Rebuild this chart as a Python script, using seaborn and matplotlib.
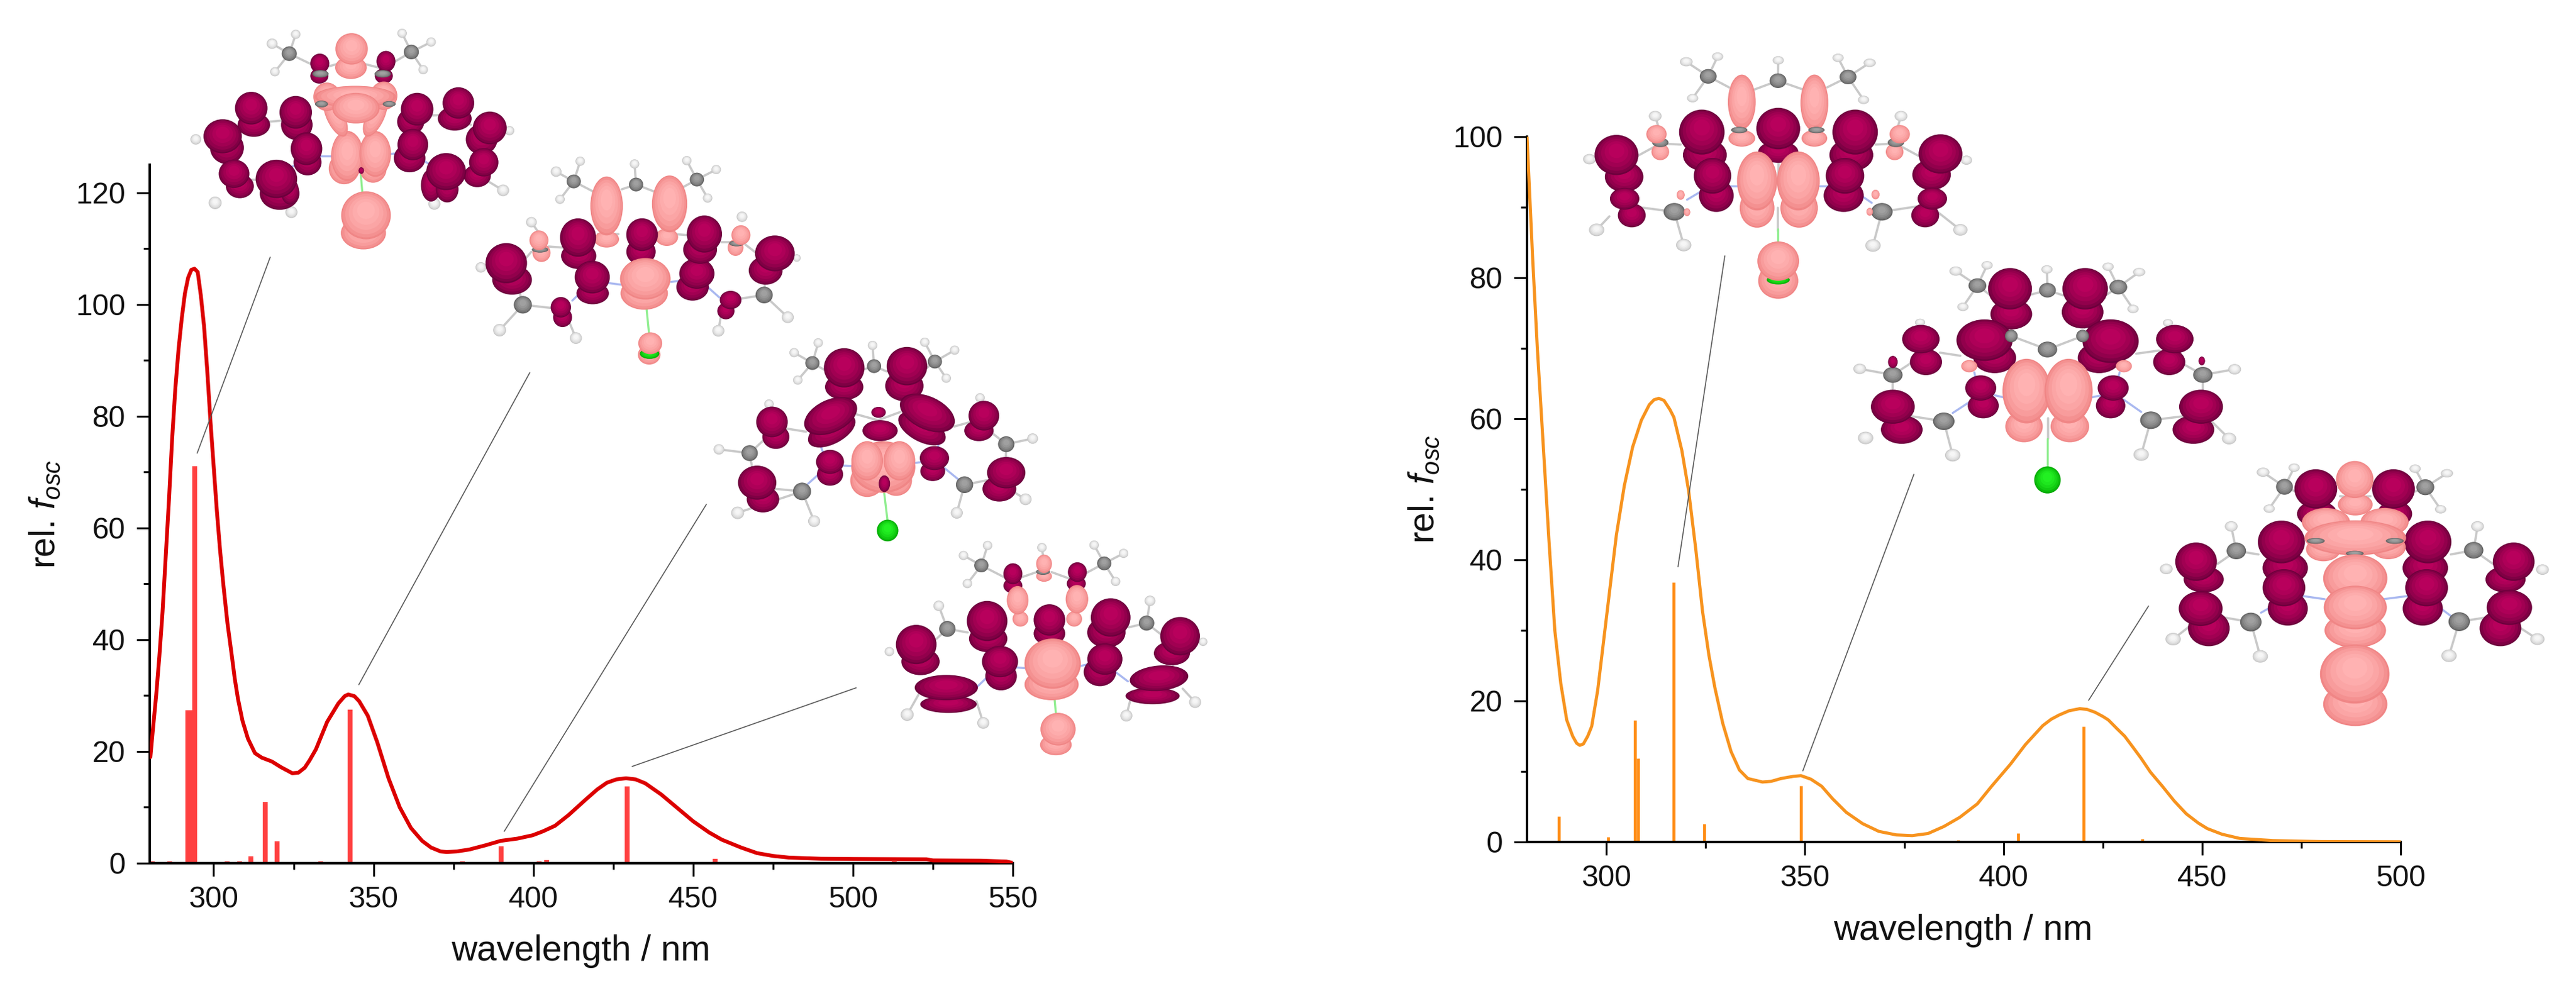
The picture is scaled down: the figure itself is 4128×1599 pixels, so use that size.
#%%
import numpy as np
import pandas as pd
import seaborn as sns
import matplotlib.pyplot as plt
from matplotlib.patches import Ellipse
from matplotlib.colors import to_rgb
from matplotlib.ticker import MultipleLocator

W, H = 4128, 1599

# left spectrum
left_nm = [280.2, 281, 282, 283, 284, 285, 286, 287, 288, 289, 290, 291, 292, 293, 294, 295, 296, 297, 298, 299, 300, 301,
           302, 303, 304.3, 305.7, 306.6, 307.6, 309, 310.7, 312.9, 315, 318.2, 321, 324.6, 326.5, 328.5, 330, 332, 335.5,
           339, 341, 342.1, 344, 345.5, 348.2, 351.2, 354.7, 358.2, 361.7, 365.2, 368, 371, 372.9, 376, 380, 385, 389.8,
           395, 399.8, 403, 406.8, 411, 416.6, 420, 423, 426, 429, 432, 435, 440, 445, 450, 455, 459,
           465, 470, 475, 480, 490, 500, 523, 525, 540, 548, 550]
left_osc = [19, 24, 30, 37, 45, 55, 65, 76, 85, 92, 97.5, 102, 104.8, 106.2, 106.4, 105.8, 101.5, 96, 88, 79, 71, 63,
            56, 50, 43, 37, 33, 29.4, 25.5, 22.3, 19.7, 18.9, 18.2, 17.2, 16.1, 16.2, 17.1, 18.4, 20.4, 25.3,
            28.6, 29.9, 30.2, 29.9, 29, 26.4, 21.6, 15.2, 10, 6.3, 4, 2.8, 2.1, 2, 2.1, 2.45, 3.2, 4,
            4.4, 5, 5.7, 6.7, 8.6, 11.5, 13.2, 14.4, 15, 15.2, 15, 14.3, 12.3, 9.9, 7.5, 5.5, 4.2,
            2.8, 1.8, 1.3, 1, 0.8, 0.75, 0.7, 0.5, 0.45, 0.3, 0.05]
left_stick_nm = [280.8, 286.2, 292, 292.8, 294, 304.2, 308.2, 311.7, 316.2, 319.8, 333.4, 342.6,
                 377.9, 389.9, 401.9, 404.1, 429.3, 456.9, 474, 513]
left_stick_osc = [0.3, 0.3, 27.4, 27.4, 71, 0.3, 0.3, 1.2, 11, 3.9, 0.3, 27.5,
                  0.3, 3.05, 0.3, 0.6, 13.7, 0.8, 0.2, 0.3]

# right spectrum
right_nm = [280, 281.4, 282.6, 283.9, 285.5, 287, 288.5, 290, 291.5, 292.5, 293.3, 294.2, 295.3, 296.3, 297.8, 299.4, 301, 302.5,
            304.5, 306.6, 308.8, 310.8, 312, 313.2, 314.5, 316, 317, 319, 320.7, 322.5, 324.2, 325.8, 327.3, 329.3, 331.4, 333.5,
            335.6, 339.3, 341.5, 344, 347, 349, 351.5, 354.2, 357, 360.4, 364.5, 368.6, 373, 377, 381, 385, 389, 393.4, 397, 401.7,
            405.5, 409.9, 412, 414, 416.5, 419.2, 421, 423, 425, 426.4, 428.5, 430.5, 432.5, 434.6, 437, 440, 443, 446, 449, 451.3,
            455, 459.5, 467.8, 480, 500]
right_osc = [100, 83, 70, 58, 43, 30, 22.5, 17.3, 15, 14, 13.7, 13.9, 15, 16.4, 21.5, 29, 36.5, 43.5,
             50.5, 56, 59.8, 62, 62.7, 62.9, 62.6, 61.3, 60.2, 55.5, 49.8, 41.5, 32.7, 26.5, 21.9, 16.8, 12.8, 10.2,
             9, 8.5, 8.6, 9, 9.3, 9.4, 8.9, 7.9, 6.1, 4.2, 2.6, 1.5, 1, 0.9, 1.2, 2.2, 3.5, 5.4, 7.9, 11,
             13.8, 16.5, 17.4, 18, 18.6, 18.9, 18.8, 18.4, 17.8, 17.3, 16.1, 15, 13.5, 11.9, 9.9, 7.9, 5.8, 4, 2.7, 1.9,
             1.1, 0.5, 0.2, 0.05, 0.02]
right_stick_nm = [288, 300.4, 304, 307.2, 308, 317, 324.6, 349, 388.6, 403.6, 420.1, 435]
right_stick_osc = [3.6, 0.7, 0.2, 17.3, 11.9, 36.8, 2.6, 8, 0.3, 1.2, 16.4, 0.4]

x_label = "wavelength / nm"
y_label = r"rel. $\mathit{f}_{\mathit{osc}}$"

# pointer lines, in image pixels
left_leaders = [(433, 412, 316, 726), (849, 597, 575, 1097), (1132, 808, 808, 1332), (1372, 1102, 1013, 1228)]
right_leaders = [(2764, 410, 2689, 908), (3067, 760, 2889, 1235), (3443, 971, 3347, 1122)]

# orbital pictures: kind, cx, cy, rx, ry, angle in crop pixels, back to front
mol1 = [
    "H", (395, 90, 25, 25), (505, 45, 22, 22), (408, 225, 22, 22), (1000, 40, 22, 22), (1135, 82, 22, 22),
    (1098, 215, 22, 22), (40, 550, 25, 25), (130, 855, 30, 30), (485, 900, 28, 28), (1150, 860, 28, 28),
    (1470, 795, 28, 28), (1500, 508, 22, 22),
    "C", (475, 138, 35, 35), (1043, 130, 35, 35),
    "M", (615, 245, 40, 35), (915, 245, 40, 35), (617, 185, 42, 45), (925, 175, 42, 48),
    "C", (620, 235, 38, 18), (910, 235, 38, 18),
    "M", (310, 480, 72, 55), (298, 400, 72, 75), (510, 480, 70, 70), (505, 420, 72, 75), (185, 590, 75, 75), (165, 535, 85, 78),
    (245, 775, 62, 55), (218, 715, 68, 65), (430, 810, 88, 75), (478, 800, 40, 60), (415, 740, 92, 88), (560, 660, 62, 60), (555, 595, 70, 75),
    (1040, 465, 60, 60), (1070, 405, 72, 75), (1245, 450, 75, 55), (1262, 375, 70, 72), (1370, 550, 70, 70), (1408, 495, 75, 75),
    (1350, 725, 60, 52), (1380, 660, 65, 65), (1135, 770, 45, 75), (1210, 790, 50, 60), (1205, 705, 88, 85), (1035, 640, 70, 65), (1050, 575, 68, 72),
    "P", (762, 205, 70, 52), (765, 115, 72, 72), (730, 690, 68, 72), (865, 690, 60, 65), (745, 630, 72, 115), (875, 620, 70, 105),
    (690, 440, 40, 100, -25), (875, 440, 40, 100, 25), (650, 345, 60, 65), (915, 340, 60, 65), (782, 345, 180, 50), (785, 400, 105, 70),
    (820, 1000, 100, 75), (832, 915, 110, 110),
    "C", (625, 380, 30, 16), (940, 380, 30, 14),
    "M", (810, 700, 12, 15),
]
mol1_bonds = [[(395, 90), (475, 138), (505, 45)], [(408, 225), (475, 138), (620, 210), (760, 170), (910, 210), (1043, 130), (1000, 40)],
              [(1135, 82), (1043, 130), (1098, 215)], [(505, 510), (515, 540)], [(1070, 480), (1070, 510)],
              [(250, 500), (320, 470), (440, 460)], [(200, 610), (210, 650)], [(1140, 435), (1230, 430), (1320, 480)], [(1370, 570), (1370, 600)],
              [(1300, 700), (1350, 720), (1470, 795)], [(290, 745), (320, 745)], [(470, 830), (485, 900)], [(1160, 800), (1150, 860)]]
mol1_blue = [[(620, 630), (670, 630)], [(945, 620), (995, 615)], [(490, 680), (515, 665)], [(1090, 645), (1120, 665)]]
mol1_green = [[(808, 720), (815, 805)]]

mol2 = [
    "H", (410, 105, 25, 25), (522, 55, 22, 22), (428, 238, 22, 22), (775, 68, 22, 22), (1018, 52, 22, 22), (1155, 95, 22, 22),
    (1115, 232, 22, 22), (295, 348, 25, 25), (1275, 322, 25, 25), (60, 565, 25, 25), (147, 867, 30, 30), (502, 905, 28, 28),
    (1165, 870, 28, 28), (1488, 805, 28, 28), (1530, 520, 18, 18),
    "C", (492, 152, 33, 33), (782, 167, 33, 33), (1065, 143, 33, 33), (255, 745, 42, 42), (1378, 698, 40, 40),
    "P", (645, 430, 55, 38), (645, 270, 72, 135), (925, 420, 50, 40), (938, 260, 78, 130), (342, 495, 40, 42), (1245, 470, 35, 38),
    "C", (335, 480, 38, 14), (1250, 450, 35, 14),
    "P", (330, 435, 42, 45), (1270, 410, 42, 45),
    "M", (205, 625, 88, 68), (178, 545, 92, 92), (515, 510, 78, 60), (512, 422, 80, 88), (580, 690, 72, 50), (578, 612, 78, 75),
    (440, 805, 42, 45), (432, 757, 45, 47), (805, 490, 65, 60), (810, 408, 70, 75), (1045, 660, 72, 62), (1065, 595, 78, 70),
    (1080, 480, 75, 65), (1100, 405, 78, 85), (1200, 775, 38, 38), (1222, 722, 48, 42), (1385, 580, 75, 65), (1428, 498, 88, 82),
    "P", (820, 690, 105, 75), (825, 620, 112, 95), (843, 985, 50, 45),
    "G", (845, 980, 45, 25),
    "P", (848, 930, 53, 50),
]
mol2_bonds = [[(410, 105), (492, 152), (522, 55)], [(428, 238), (492, 152), (600, 210)], [(715, 190), (782, 167), (865, 200)],
              [(782, 167), (775, 68)], [(1018, 52), (1065, 143), (1155, 95)], [(1115, 232), (1065, 143), (1000, 180)],
              [(605, 405), (700, 405)], [(890, 400), (1020, 410)], [(375, 465), (440, 470)], [(1180, 445), (1230, 445)], [(1290, 455), (1340, 495)],
              [(295, 348), (330, 400)], [(295, 490), (270, 520)], [(525, 520), (535, 550)], [(808, 490), (808, 525)], [(1090, 500), (1085, 530)],
              [(225, 625), (255, 745), (147, 867)], [(255, 745), (385, 760)], [(460, 800), (502, 905)], [(1385, 590), (1378, 698), (1488, 805)],
              [(1378, 698), (1270, 715)], [(1180, 780), (1165, 870)]]
mol2_blue = [[(650, 640), (710, 648)], [(945, 635), (995, 628)], [(485, 725), (530, 680)], [(1110, 655), (1170, 710)]]
mol2_green = [[(828, 735), (842, 880)]]

mol3 = [
    "H", (385, 105, 22, 22), (497, 58, 22, 22), (402, 237, 22, 22), (750, 70, 22, 22), (993, 55, 22, 22), (1132, 93, 22, 22),
    (1093, 228, 22, 22), (268, 352, 22, 22), (1250, 322, 22, 22), (35, 570, 25, 25), (122, 875, 30, 30), (478, 915, 28, 28),
    (1142, 875, 28, 28), (1462, 810, 28, 28), (1495, 518, 25, 25),
    "C", (470, 155, 33, 33), (757, 170, 33, 33), (1040, 148, 33, 33), (178, 588, 38, 38), (422, 772, 42, 42), (1178, 740, 40, 40), (1372, 545, 38, 38),
    "M", (618, 270, 85, 60), (618, 178, 90, 90), (898, 265, 85, 70), (910, 170, 90, 88),
    (560, 480, 115, 60, -28), (555, 410, 125, 75, -25), (980, 470, 115, 60, 28), (1005, 395, 130, 75, 25),
    (785, 480, 78, 48), (778, 392, 32, 25), (300, 510, 60, 55), (282, 438, 70, 70), (1245, 480, 65, 48), (1268, 408, 68, 68),
    (552, 690, 58, 52), (552, 630, 62, 55), (1030, 675, 55, 45), (1038, 612, 65, 55),
    (240, 810, 72, 60), (213, 730, 85, 78), (1340, 760, 75, 58), (1372, 682, 85, 72),
    "P", (725, 720, 75, 75), (860, 720, 70, 70), (800, 655, 142, 118), (725, 625, 70, 90), (875, 625, 70, 90),
    "M", (805, 735, 25, 38),
    "G", (820, 960, 50, 52),
]
mol3_bonds = [[(385, 105), (470, 155), (497, 58)], [(402, 237), (470, 155), (530, 190)], [(710, 185), (757, 170), (815, 195)], [(757, 170), (750, 70)],
              [(993, 55), (1040, 148), (1132, 93)], [(1093, 228), (1040, 148), (1000, 180)], [(618, 280), (618, 320)], [(912, 270), (912, 310)],
              [(670, 400), (775, 430), (880, 390)], [(350, 470), (440, 485)], [(1130, 460), (1200, 440), (1280, 470), (1372, 545), (1495, 518)],
              [(268, 352), (290, 400)], [(270, 500), (178, 588), (35, 570)], [(178, 588), (190, 660)], [(300, 760), (422, 772), (478, 915)],
              [(422, 772), (122, 875)], [(1178, 740), (1300, 715)], [(1178, 740), (1142, 875)], [(1372, 545), (1372, 620)], [(1400, 770), (1462, 810)]]
mol3_blue = [[(495, 520), (520, 585)], [(1060, 510), (1055, 560)], [(615, 648), (650, 650)], [(950, 635), (970, 632)],
             [(450, 735), (510, 680)], [(1085, 660), (1150, 715)]]
mol3_green = [[(803, 770), (820, 915)]]

mol4 = [
    "H", (360, 90, 22, 22), (472, 42, 22, 22), (378, 225, 22, 22), (725, 52, 22, 22), (968, 40, 22, 22), (1105, 80, 22, 22), (1068, 215, 22, 22),
    (245, 332, 25, 25), (1228, 308, 25, 25), (15, 552, 22, 22), (98, 855, 30, 30), (452, 895, 28, 28), (1118, 860, 28, 28), (1438, 795, 28, 28), (1475, 505, 20, 20),
    "C", (443, 138, 33, 33), (1015, 128, 33, 33), (285, 443, 38, 38), (1212, 415, 36, 36),
    "P", (735, 190, 35, 25),
    "C", (730, 168, 32, 15),
    "P", (735, 130, 35, 42),
    "M", (590, 235, 42, 35), (590, 178, 42, 48), (885, 225, 42, 35), (890, 170, 42, 45),
    (160, 600, 85, 62), (140, 518, 90, 90), (475, 490, 85, 62), (470, 405, 90, 92), (535, 670, 70, 65), (530, 600, 80, 72),
    (760, 465, 70, 55), (760, 400, 70, 72), (1025, 460, 85, 70), (1045, 388, 88, 88), (995, 650, 72, 65), (1018, 588, 78, 72), (1330, 560, 80, 55), (1368, 478, 88, 88),
    (290, 805, 125, 40), (280, 725, 140, 58), (1240, 765, 120, 38), (1270, 680, 130, 58, -5),
    "P", (625, 395, 35, 35), (612, 305, 48, 65), (875, 395, 35, 35), (888, 300, 50, 65), (770, 710, 120, 72), (775, 610, 125, 115),
    (790, 1000, 70, 48), (800, 925, 78, 75),
]
mol4_bonds = [[(360, 90), (443, 138), (472, 42)], [(378, 225), (443, 138), (560, 200)], [(630, 195), (700, 170)], [(770, 170), (850, 200)], [(725, 52), (730, 90)],
              [(968, 40), (1015, 128), (1105, 80)], [(1068, 215), (1015, 128), (930, 175)], [(245, 332), (285, 443), (380, 460)], [(1228, 308), (1212, 415), (1130, 435)],
              [(1212, 415), (1280, 470)], [(285, 443), (235, 490)], [(170, 610), (180, 660)], [(478, 510), (488, 545)], [(1040, 480), (1040, 520)], [(1340, 560), (1335, 620)],
              [(760, 480), (760, 510)], [(420, 790), (452, 895)], [(1140, 770), (1118, 860)], [(1380, 730), (1438, 795)], [(150, 760), (98, 855)]]
mol4_blue = [[(605, 628), (650, 632)], [(900, 622), (945, 612)], [(425, 720), (480, 665)], [(1065, 648), (1125, 695)]]
mol4_green = [[(780, 735), (790, 850)]]

mol5 = [
    "H", (422, 57, 25, 22), (545, 32, 22, 20), (447, 232, 22, 20), (783, 50, 22, 20), (1018, 38, 22, 20), (1142, 62, 24, 20), (1118, 240, 22, 20),
    (300, 318, 25, 25), (1265, 318, 25, 25), (42, 525, 25, 25), (70, 865, 30, 30), (412, 938, 30, 30), (1155, 940, 30, 30), (1498, 865, 28, 28), (1522, 530, 22, 22),
    "C", (508, 127, 33, 35), (782, 148, 33, 35), (1057, 130, 33, 35), (375, 778, 42, 42), (1190, 778, 42, 42),
    "P", (640, 425, 50, 38), (925, 425, 48, 38), (640, 250, 52, 125), (925, 255, 52, 130), (320, 490, 33, 38), (1240, 490, 33, 38),
    "C", (320, 445, 32, 22), (1245, 445, 32, 22), (630, 385, 32, 15), (933, 385, 32, 15),
    "P", (305, 405, 38, 42), (1260, 405, 38, 42), (400, 697, 15, 22), (1165, 695, 15, 22), (425, 780, 12, 18), (1142, 778, 12, 18),
    "M", (178, 610, 72, 70), (148, 505, 82, 92), (208, 795, 52, 55), (180, 715, 55, 50), (495, 505, 82, 75), (483, 395, 85, 103), (540, 700, 65, 75), (525, 605, 70, 82),
    (783, 490, 75, 50), (783, 378, 82, 95), (1070, 505, 82, 75), (1085, 395, 85, 103), (1040, 700, 75, 75), (1045, 605, 72, 82),
    (1385, 600, 72, 70), (1420, 500, 82, 90), (1360, 795, 52, 55), (1388, 715, 55, 50),
    "P", (700, 760, 65, 90), (865, 760, 70, 90), (700, 630, 75, 135), (862, 630, 80, 135), (783, 1110, 75, 82),
    "G", (783, 1105, 45, 22),
    "P", (783, 1015, 78, 90),
]
mol5_bonds = [[(422, 57), (508, 127), (545, 32)], [(447, 232), (508, 127), (590, 180)], [(690, 190), (782, 148), (880, 190)], [(782, 148), (783, 50)],
              [(1018, 38), (1057, 130), (1142, 62)], [(1118, 240), (1057, 130), (975, 180)], [(300, 318), (320, 400)], [(1265, 318), (1245, 400)],
              [(230, 510), (320, 450), (400, 455)], [(1165, 455), (1245, 450), (1335, 510)], [(185, 600), (185, 660)], [(1385, 590), (1385, 650)],
              [(230, 755), (375, 778), (412, 938)], [(1190, 778), (1340, 750)], [(1190, 778), (1155, 940)], [(1410, 780), (1498, 865)], [(120, 800), (70, 865)],
              [(495, 510), (495, 530)], [(1075, 510), (1075, 530)], [(783, 490), (783, 610)], [(782, 760), (782, 870)]]
mol5_blue = [[(585, 655), (625, 655)], [(945, 655), (985, 655)], [(425, 720), (480, 680)], [(1085, 680), (1150, 735)]]
mol5_green = [[(782, 860), (782, 925)]]

mol6 = [
    "H", (402, 73, 25, 22), (525, 45, 22, 20), (430, 245, 22, 20), (760, 65, 22, 20), (1000, 52, 22, 20), (1122, 78, 24, 20), (1098, 255, 22, 20),
    (262, 320, 20, 18), (1235, 322, 20, 18), (25, 543, 25, 25), (48, 875, 30, 30), (390, 958, 30, 30), (1130, 955, 30, 30), (1475, 878, 28, 28), (1497, 545, 25, 25),
    "C", (487, 143, 35, 35), (762, 165, 33, 35), (1040, 150, 35, 35), (762, 450, 38, 38), (155, 572, 38, 38), (1372, 572, 38, 38), (355, 795, 42, 42), (1168, 790, 42, 42),
    "M", (155, 510, 18, 28), (1368, 505, 12, 20), (620, 280, 78, 70), (615, 158, 82, 95), (900, 270, 78, 75), (910, 158, 85, 95),
    (555, 490, 80, 70), (515, 405, 105, 95), (965, 490, 80, 70), (1010, 410, 105, 100),
    (285, 510, 60, 60), (265, 400, 70, 65), (1240, 510, 60, 60), (1262, 400, 70, 65),
    (190, 835, 78, 65), (155, 725, 82, 78), (1335, 835, 78, 65), (1365, 725, 82, 78),
    (510, 720, 58, 58), (500, 635, 58, 58), (1010, 720, 55, 58), (1020, 635, 58, 58),
    "C", (620, 385, 25, 30), (900, 385, 25, 30),
    "P", (455, 530, 30, 28), (1062, 530, 30, 28), (670, 820, 70, 72), (850, 820, 72, 72), (680, 650, 90, 148), (845, 650, 90, 148),
    "G", (762, 1077, 52, 65),
]
mol6_bonds = [[(402, 73), (487, 143), (525, 45)], [(430, 245), (487, 143), (540, 190)], [(700, 185), (762, 165), (825, 190)], [(760, 65), (762, 165)],
              [(1000, 52), (1040, 150), (1122, 78)], [(1098, 255), (1040, 150), (990, 190)], [(617, 260), (617, 345)], [(908, 260), (908, 345)],
              [(620, 385), (762, 450), (900, 385)], [(340, 465), (420, 480)], [(1110, 470), (1200, 455), (1372, 572), (1497, 545)],
              [(270, 480), (155, 572), (25, 543)], [(155, 572), (155, 640)], [(1372, 572), (1372, 650)], [(225, 770), (355, 795), (390, 958)],
              [(1168, 790), (1300, 770)], [(1168, 790), (1130, 955)], [(1410, 800), (1475, 878)], [(765, 780), (765, 880)]]
mol6_blue = [[(475, 560), (480, 590)], [(1045, 560), (1040, 590)], [(555, 670), (590, 680)], [(935, 680), (975, 670)], [(390, 755), (465, 695)], [(1060, 690), (1130, 750)]]
mol6_green = [[(762, 880), (762, 1015)]]

mol7 = [
    "H", (408, 50, 25, 22), (530, 28, 22, 20), (432, 225, 22, 20), (1005, 33, 22, 20), (1130, 55, 24, 20), (1105, 228, 22, 20),
    (283, 310, 25, 25), (1250, 310, 25, 25), (28, 515, 25, 25), (55, 852, 30, 30), (397, 935, 30, 30), (1138, 932, 30, 30), (1485, 852, 28, 28), (1505, 518, 25, 25),
    "C", (492, 120, 33, 38), (1045, 122, 35, 38), (303, 428, 38, 40), (1235, 425, 38, 40), (360, 770, 42, 45), (1178, 768, 42, 45),
    "M", (620, 250, 75, 60), (925, 250, 65, 60), (615, 130, 80, 90), (920, 130, 80, 90),
    (175, 565, 75, 60), (145, 480, 78, 88), (195, 800, 78, 82), (163, 705, 82, 80), (495, 510, 85, 75), (480, 385, 88, 98), (505, 705, 75, 78), (490, 605, 80, 85),
    (1045, 510, 85, 75), (1055, 385, 88, 98), (1035, 705, 75, 78), (1050, 605, 80, 85), (1360, 565, 75, 60), (1392, 480, 78, 88), (1340, 800, 78, 82), (1375, 700, 85, 80),
    "P", (770, 205, 65, 50), (768, 85, 70, 85), (645, 420, 65, 55), (900, 410, 65, 55), (655, 290, 90, 65), (885, 290, 90, 65), (770, 365, 190, 80),
    "C", (615, 380, 35, 14), (925, 380, 35, 14), (768, 440, 35, 12),
    "P", (770, 810, 115, 80), (770, 560, 120, 110), (770, 700, 118, 100), (770, 1165, 120, 100), (768, 1020, 130, 135),
]
mol7_bonds = [[(408, 50), (492, 120), (530, 28)], [(432, 225), (492, 120), (550, 150)], [(1005, 33), (1045, 122), (1130, 55)], [(1105, 228), (1045, 122), (990, 150)],
              [(283, 310), (303, 428), (390, 445)], [(303, 428), (230, 490)], [(1250, 310), (1235, 425), (1145, 445)], [(1235, 425), (1310, 490)],
              [(240, 745), (360, 770), (397, 935)], [(1178, 768), (1300, 745)], [(1178, 768), (1138, 932)], [(1420, 800), (1485, 852)], [(120, 790), (55, 852)],
              [(710, 165), (770, 170), (830, 165)], [(168, 600), (168, 620)], [(1375, 590), (1375, 620)], [(478, 500), (478, 520)], [(1060, 500), (1060, 520)]]
mol7_blue = [[(565, 645), (650, 660)], [(880, 660), (975, 645)], [(400, 725), (450, 690)], [(1090, 690), (1150, 745)]]
mol7_green = []

# crop origin and zoom of each picture
pictures = [
    (mol1, mol1_bonds, mol1_blue, mol1_green, 300, 40, 2.904, 3.0),
    (mol2, mol2_bonds, mol2_blue, mol2_green, 750, 240, 2.904, 3.0),
    (mol3, mol3_bonds, mol3_blue, mol3_green, 1140, 530, 2.904, 3.0),
    (mol4, mol4_bonds, mol4_blue, mol4_green, 1420, 860, 2.904, 3.0),
    (mol5, mol5_bonds, mol5_blue, mol5_green, 2530, 80, 2.45, 3.0),
    (mol6, mol6_bonds, mol6_blue, mol6_green, 2970, 410, 2.45, 3.0),
    (mol7, mol7_bonds, mol7_blue, mol7_green, 3460, 740, 2.45, 3.0),
]
shades = {"M": ("#6c003c", "#b8005c"), "P": ("#f08686", "#ffb2b2"), "C": ("#5e5e5e", "#a0a0a0"),
          "H": ("#c4c4c4", "#f6f6f6"), "G": ("#00a800", "#22f022")}
grow = {"M": 1.05, "P": 1.05, "C": 1.0, "H": 1.0, "G": 1.0}

#%%
sns.set_style("ticks")
plt.rcParams["font.family"] = ["Liberation Sans", "DejaVu Sans"]
plt.rcParams["mathtext.fontset"] = "custom"
plt.rcParams["mathtext.rm"] = "Liberation Sans"
plt.rcParams["mathtext.it"] = "Liberation Sans:italic"

fig = plt.figure(figsize=(W / 100, H / 100), dpi=100)


def spectrum(box, xmax, ymax, ymajor, nm, osc, stick_nm, stick_osc, line_c, stick_c, line_w, stick_w, xtext, ytext):
    x0, y_top, x1, y0 = box
    ax = fig.add_axes([x0 / W, 1 - y0 / H, (x1 - x0) / W, (y0 - y_top) / H])
    ax.vlines(stick_nm, 0, stick_osc, color=stick_c, lw=stick_w, zorder=2)
    df = pd.DataFrame({"nm": nm, "osc": osc})
    sns.lineplot(data=df, x="nm", y="osc", color=line_c, lw=line_w, errorbar=None, ax=ax, zorder=3)
    ax.set_xlim(280, xmax)
    ax.set_ylim(0, ymax)
    ax.xaxis.set_major_locator(MultipleLocator(50))
    ax.xaxis.set_minor_locator(MultipleLocator(25))
    ax.yaxis.set_major_locator(MultipleLocator(ymajor))
    ax.yaxis.set_minor_locator(MultipleLocator(ymajor / 2))
    ax.tick_params(which="major", length=15, width=2.2, labelsize=34.5, color="black", labelcolor="#111111")
    ax.tick_params(axis="x", which="major", pad=11)
    ax.tick_params(axis="y", which="major", pad=13)
    ax.tick_params(which="minor", length=7.5, width=2.2, color="black")
    sns.despine(ax=ax)
    for side in ["left", "bottom"]:
        ax.spines[side].set_linewidth(2.9)
        ax.spines[side].set_color("black")
    ax.set_xlabel(x_label, fontsize=41, color="#111111")
    ax.set_ylabel(y_label, fontsize=41, color="#111111")
    ax.xaxis.set_label_coords(xtext, -0.102)
    ax.yaxis.set_label_coords(ytext, 0.5)
    return ax


ax_left = spectrum((240, 264, 1623, 1383), 550, 125, 20, left_nm, left_osc, left_stick_nm, left_stick_osc,
                   "#dc0000", "#ff4040", 4.4, 5.6, 0.4996, -0.101)
ax_right = spectrum((2447, 219, 3847, 1349), 500, 100, 20, right_nm, right_osc, right_stick_nm, right_stick_osc,
                    "#f7931e", "#ff8c14", 3.6, 3.4, 0.499, -0.098)

#%%
# overlay in image pixels for the orbital pictures and pointer lines
over = fig.add_axes([0, 0, 1, 1], zorder=5)
over.set_xlim(0, W)
over.set_ylim(H, 0)
over.axis("off")


def lobe(kind, cx, cy, rx, ry, angle=0):
    dark, light = (np.array(to_rgb(c)) for c in shades[kind])
    rx, ry = rx * grow[kind], ry * grow[kind]
    for f, t in zip([1, 0.94, 0.84, 0.7, 0.54, 0.36], [0, 0.25, 0.5, 0.7, 0.87, 1]):
        over.add_patch(Ellipse((cx, cy - (1 - f) * 0.32 * ry), 2 * rx * f, 2 * ry * f, angle=angle,
                               facecolor=dark + (light - dark) * t, edgecolor="none"))


for parts, bonds, blue, green, ox, oy, sx, sy in pictures:
    for group, col, lw in [(bonds, "#c9c9c9", 2.6), (blue, "#a9b8f0", 2.4), (green, "#90ee90", 2.4)]:
        for pts in group:
            over.plot([ox + p[0] / sx for p in pts], [oy + p[1] / sy for p in pts], color=col, lw=lw, solid_capstyle="round", zorder=1)
    kind = None
    for item in parts:
        if isinstance(item, str):
            kind = item
            continue
        a = item[4] if len(item) > 4 else 0
        lobe(kind, ox + item[0] / sx, oy + item[1] / sy, item[2] / sx, item[3] / sy, a)

for x0, y0, x1, y1 in left_leaders + right_leaders:
    over.plot([x0, x1], [y0, y1], color="#5a5a5a", lw=1.2, zorder=3)

fig.savefig("out.png", dpi=100, facecolor="white")
